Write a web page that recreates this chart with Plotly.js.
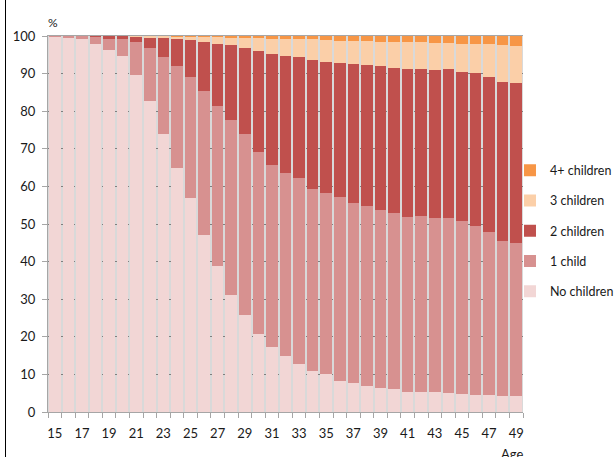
<!DOCTYPE html>
<html>
<head>
<meta charset="utf-8">
<script src="https://cdn.plot.ly/plotly-3.0.1.min.js"></script>
<style>
  html, body { margin: 0; padding: 0; background: #fff; }
  #frame { position: absolute; left: 5px; top: 0; width: 1px; height: 457px; background: #000; }
  #chart { position: absolute; left: 0; top: 0; width: 616px; height: 457px; }
</style>
</head>
<body>
<div id="chart"></div>
<div id="frame"></div>
<script>
const ages = [15,16,17,18,19,20,21,22,23,24,25,26,27,28,29,30,31,32,33,34,35,36,37,38,39,40,41,42,43,44,45,46,47,48,49];
const noChildren    = [99.7,99.5,99.1,98.0,96.2,94.6,89.6,82.6,74.0,64.9,57.0,47.1,38.9,31.2,25.7,20.7,17.4,15.0,12.9,10.9,10.0,8.2,7.6,6.9,6.4,6.1,5.4,5.2,5.2,5.0,4.7,4.4,4.4,4.3,4.3];
const oneChild      = [0.3,0.4,0.8,1.8,3.1,4.6,8.7,14.1,20.5,27.0,32.2,38.2,42.6,46.5,48.3,48.4,48.3,48.6,49.3,48.4,48.3,49.0,48.0,48.0,47.3,46.9,46.5,46.9,46.4,46.6,46.0,45.1,43.4,41.2,40.7];
const twoChildren   = [0.0,0.1,0.1,0.2,0.6,0.7,1.5,2.9,4.9,7.2,9.7,13.1,16.5,19.8,22.9,26.8,29.4,31.0,32.3,34.3,34.7,35.7,36.9,37.3,38.2,38.5,39.4,39.2,39.4,39.5,39.8,40.6,41.4,42.4,42.4];
const threeChildren = [0.0,0.0,0.0,0.0,0.1,0.1,0.2,0.3,0.5,0.7,0.8,1.3,1.7,2.1,2.7,3.6,4.2,4.6,4.7,5.5,5.9,5.9,6.1,6.4,6.6,6.8,7.0,7.0,7.2,7.0,7.5,7.9,8.6,9.6,10.0];
const fourPlus      = [0.0,0.0,0.0,0.0,0.0,0.0,0.0,0.1,0.1,0.2,0.3,0.3,0.3,0.4,0.4,0.5,0.7,0.8,0.8,0.9,1.1,1.2,1.4,1.4,1.5,1.7,1.7,1.7,1.8,1.9,2.0,2.0,2.2,2.5,2.6];
const seriesNames = ["No children","1 child","2 children","3 children","4+ children"];
const seriesColors = ["#f2d6d5","#d79190","#c0504d","#fbcfa8","#f79646"];
const ageTickVals = [15,17,19,21,23,25,27,29,31,33,35,37,39,41,43,45,47,49];
const ageTickText = ageTickVals.map(String);
const yTickVals = [0,10,20,30,40,50,60,70,80,90,100];

const seriesData = [noChildren, oneChild, twoChildren, threeChildren, fourPlus];
const traces = seriesData.map((vals, i) => ({
  type: "bar",
  x: ages,
  y: vals,
  name: seriesNames[i],
  legendgroup: "g" + i,
  legendrank: seriesData.length - i,
  marker: { color: seriesColors[i], line: { width: 0 } },
  hoverinfo: "x+y+name"
}));

const fontFam = "Lato, 'Open Sans', 'DejaVu Sans', sans-serif";
const layout = {
  width: 616,
  height: 457,
  margin: { l: 48, r: 93, t: 36, b: 45, pad: 0, autoexpand: false },
  barmode: "stack",
  bargap: 0.15,
  paper_bgcolor: "#ffffff",
  plot_bgcolor: "#d9d9d9",
  font: { family: fontFam, size: 13, color: "#1a1a1a" },
  showlegend: true,
  legend: {
    x: 0.9726, xanchor: "left",
    y: 0.682, yanchor: "top",
    traceorder: "grouped",
    tracegroupgap: 11,
    font: { family: fontFam, size: 12.5, color: "#1a1a1a" },
    bgcolor: "rgba(0,0,0,0)",
    borderwidth: 0
  },
  xaxis: {
    type: "linear",
    range: [14.5, 49.5],
    tickmode: "array",
    tickvals: ageTickVals,
    ticktext: ageTickText,
    ticks: "",
    ticklabelstandoff: 9,
    showgrid: false,
    zeroline: false,
    showline: true,
    linecolor: "#a6a6a6",
    linewidth: 1,
    mirror: true,
    minor: { tickmode: "linear", tick0: 14.5, dtick: 1, ticks: "outside", ticklen: 5, tickcolor: "#a6a6a6", tickwidth: 1, showgrid: false },
    tickfont: { family: fontFam, size: 13, color: "#1a1a1a" },
    fixedrange: true
  },
  yaxis: {
    range: [0, 100],
    tickmode: "array",
    tickvals: yTickVals,
    ticks: "outside",
    ticklen: 5,
    tickcolor: "#a6a6a6",
    ticklabelstandoff: 4,
    showgrid: true,
    gridcolor: "#7f7f7f",
    griddash: "dot",
    gridwidth: 1,
    zeroline: false,
    showline: true,
    linecolor: "#a6a6a6",
    linewidth: 1,
    tickfont: { family: fontFam, size: 13, color: "#1a1a1a" },
    fixedrange: true
  },
  annotations: [
    { text: "%", xref: "paper", yref: "paper", x: 0.0105, y: 1.037, xanchor: "center", yanchor: "middle", showarrow: false, font: { family: fontFam, size: 12, color: "#1a1a1a" } },
    { text: "Age", xref: "paper", yref: "paper", x: 0.977, y: -0.086, xanchor: "center", yanchor: "top", showarrow: false, font: { family: fontFam, size: 13, color: "#1a1a1a" } }
  ]
};

Plotly.newPlot("chart", traces, layout, { displayModeBar: false, staticPlot: true });
</script>
</body>
</html>
